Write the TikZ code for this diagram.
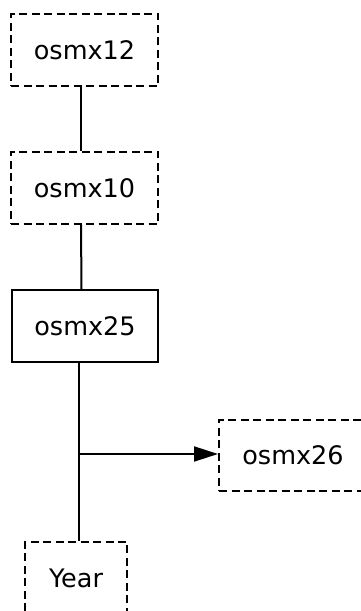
\documentclass[tikz,border=0pt]{standalone}
\usepackage{fontspec}
\setmainfont{DejaVu Sans}
\usetikzlibrary{arrows.meta,positioning}

\begin{document}
\begin{tikzpicture}[x=1pt, y=1pt,
  varbox/.style={rectangle, draw, line width=2pt, inner sep=0pt,
                 minimum width=147pt, minimum height=72pt,
                 font=\fontsize{25.5}{30}\selectfont},
  latent/.style={varbox, dash pattern=on 8pt off 4.5pt},
  link/.style={draw, line width=2pt},
  flow/.style={link, -{Triangle[length=24pt, width=15pt]}},
]
  \useasboundingbox (0,0) rectangle (360,611);

  % Chain of boxes (left column)
  \node[latent] (osmx12) at (84.5, 561) {osmx12};
  \node[latent] (osmx10) at (84.5, 423) {osmx10};
  \node[varbox, minimum width=146pt] (osmx25) at (85, 285) {osmx25};

  % Outcome box (right) and year box (bottom, cut off by the page)
  \node[latent, minimum width=148pt, minimum height=71pt] (osmx26) at (293, 155.5) {osmx26};
  \node[latent, minimum width=102pt] (year) at (76, 33) {Year};

  % Connectors
  \draw[link] ([xshift=-3.5pt]osmx12.south) -- ([xshift=-3.5pt]osmx10.north);
  \draw[link] ([xshift=-3.5pt]osmx10.south) -- ([xshift=-3.5pt]osmx25.north);

  % branch point on the vertical line
  \coordinate (branch) at (79, 157);
  \draw[link] (branch |- osmx25.south) -- (branch |- year.north);
  \draw[flow] (branch) -- (branch -| osmx26.west);

\end{tikzpicture}
\end{document}
